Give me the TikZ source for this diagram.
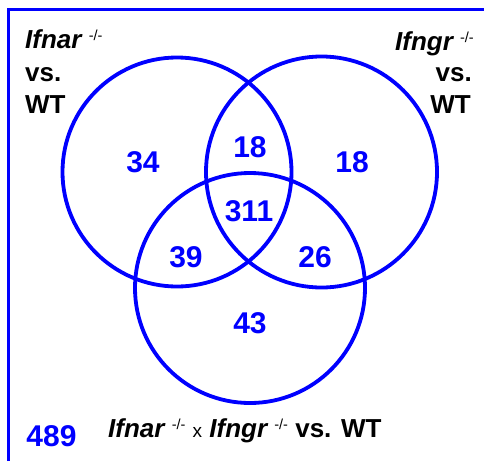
\documentclass[tikz,border=0pt]{standalone}
\usepackage{fontspec}
\setmainfont{Liberation Sans}
\definecolor{vennblue}{RGB}{0,0,255}
% knockout superscript "-/-"
\newcommand{\knock}{\raisebox{8pt}{\fontsize{14.5}{14.5}\selectfont\mdseries\upshape -/-}}
\tikzset{
  frameline/.style={draw=vennblue, line width=3pt},
  setcircle/.style={circle, draw=vennblue, line width=3.8pt, minimum size=#1, inner sep=0pt},
  count/.style={text=vennblue, font=\bfseries\fontsize{30}{30}\selectfont, inner sep=0pt},
  setlabel/.style={text=black, font=\bfseries\fontsize{26}{26}\selectfont, inner sep=0pt},
}
\begin{document}
\begin{tikzpicture}[x=1pt,y=-1pt]
\useasboundingbox (0,0) rectangle (484,461);
% frame along the left and top edges
\coordinate (fbot) at (8.5,461);
\coordinate (fcorner) at (8.5,9);
\coordinate (fright) at (484,9);
\draw[frameline] (fbot) -- (fcorner) -- (fright);
% the three sets
\node[setcircle=229pt] (setA) at (177,172) {};
\node[setcircle=231pt] (setB) at (321.5,172) {};
\node[setcircle=230pt] (setC) at (250,288) {};
% region counts
\node[count] (nA)   at (143,162.5) {34};
\node[count] (nAB)  at (250,147)   {18};
\node[count] (nB)   at (352,162.5) {18};
\node[count] (nABC) at (249,211)   {311};
\node[count] (nAC)  at (186,257.5) {39};
\node[count] (nBC)  at (315,257.5) {26};
\node[count] (nC)   at (250,323.5) {43};
\node[count] (ntot) at (51.5,436)  {489};
% set labels
\node[setlabel, anchor=base west] (lA1) at (25,48)    {\itshape Ifnar \knock};
\node[setlabel, anchor=base west] (lA2) at (25,81.7)  {vs.};
\node[setlabel, anchor=base west] (lA3) at (25,113.3) {WT};
\node[setlabel, anchor=base east] (lB1) at (474,50)   {\itshape Ifngr \knock};
\node[setlabel, anchor=base east] (lB2) at (472,81.7) {vs.};
\node[setlabel, anchor=base east] (lB3) at (471,113.3){WT};
\node[setlabel, anchor=base west] (lC)  at (108,437)
  {\itshape Ifnar \knock{} {\fontsize{19}{19}\selectfont\mdseries\upshape x} Ifngr \knock{} \upshape vs. WT};
\end{tikzpicture}
\end{document}
